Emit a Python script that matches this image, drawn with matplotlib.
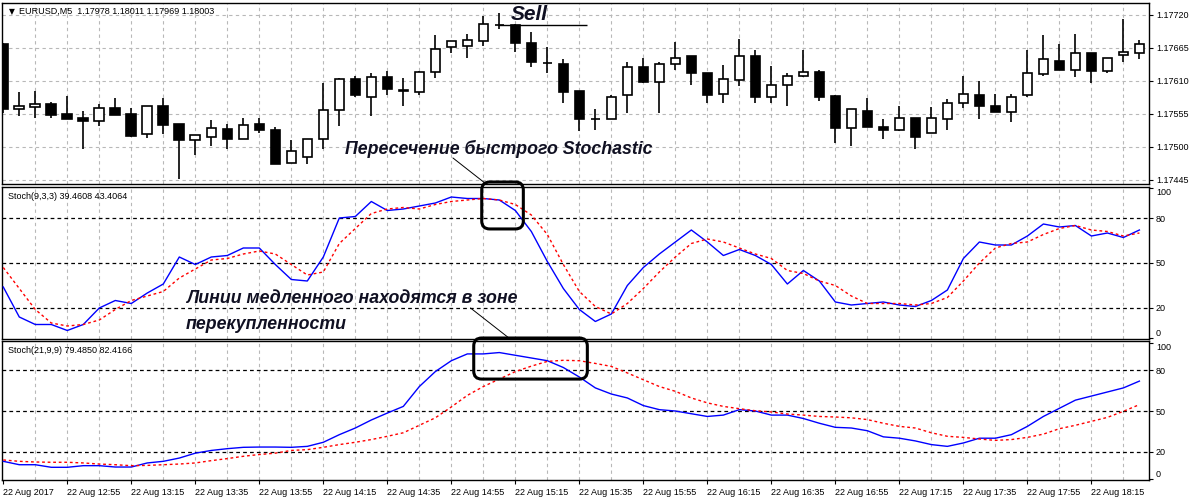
import matplotlib
matplotlib.use('Agg')
import matplotlib.pyplot as plt
from matplotlib.patches import FancyBboxPatch

# EURUSD M5, 22 Aug 2017, bars from 12:35 to 18:30
opens = [1.17671, 1.17564, 1.17567, 1.17572, 1.17555, 1.17549, 1.17544, 1.17565, 1.17555, 1.17521,
         1.17568, 1.17538, 1.17511, 1.17517, 1.17530, 1.17513, 1.17538, 1.17528, 1.17473, 1.17483,
         1.17513, 1.17562, 1.17613, 1.17584, 1.17617, 1.17595, 1.17591, 1.17625, 1.17666, 1.17668,
         1.17677, 1.17703, 1.17703, 1.17674, 1.17640, 1.17638, 1.17594, 1.17547, 1.17546, 1.17587,
         1.17633, 1.17608, 1.17638, 1.17652, 1.17624, 1.17588, 1.17611, 1.17652, 1.17583, 1.17603,
         1.17619, 1.17625, 1.17585, 1.17531, 1.17560, 1.17533, 1.17529, 1.17548, 1.17523, 1.17546,
         1.17574, 1.17586, 1.17569, 1.17559, 1.17586, 1.17621, 1.17644, 1.17629, 1.17656, 1.17626,
         1.17653, 1.17656]
highs = [1.17674, 1.17592, 1.17594, 1.17575, 1.17585, 1.17560, 1.17571, 1.17582, 1.17565, 1.17569,
         1.17581, 1.17538, 1.17520, 1.17545, 1.17538, 1.17548, 1.17548, 1.17534, 1.17512, 1.17513,
         1.17607, 1.17615, 1.17619, 1.17624, 1.17626, 1.17615, 1.17626, 1.17687, 1.17676, 1.17689,
         1.17718, 1.17723, 1.17705, 1.17692, 1.17666, 1.17646, 1.17594, 1.17563, 1.17587, 1.17642,
         1.17649, 1.17641, 1.17675, 1.17652, 1.17624, 1.17637, 1.17680, 1.17661, 1.17635, 1.17624,
         1.17662, 1.17629, 1.17586, 1.17564, 1.17581, 1.17547, 1.17568, 1.17548, 1.17567, 1.17580,
         1.17618, 1.17610, 1.17588, 1.17588, 1.17662, 1.17687, 1.17672, 1.17689, 1.17656, 1.17649,
         1.17713, 1.17678]
lows = [1.17557, 1.17551, 1.17549, 1.17548, 1.17546, 1.17497, 1.17535, 1.17553, 1.17517, 1.17515,
        1.17522, 1.17446, 1.17487, 1.17502, 1.17497, 1.17513, 1.17524, 1.17471, 1.17473, 1.17472,
        1.17496, 1.17535, 1.17584, 1.17551, 1.17586, 1.17568, 1.17587, 1.17615, 1.17656, 1.17649,
        1.17668, 1.17697, 1.17658, 1.17634, 1.17624, 1.17574, 1.17526, 1.17528, 1.17546, 1.17557,
        1.17607, 1.17557, 1.17628, 1.17604, 1.17574, 1.17574, 1.17601, 1.17573, 1.17574, 1.17568,
        1.17617, 1.17577, 1.17507, 1.17501, 1.17533, 1.17513, 1.17527, 1.17496, 1.17523, 1.17529,
        1.17565, 1.17547, 1.17558, 1.17541, 1.17584, 1.17619, 1.17628, 1.17617, 1.17607, 1.17624,
        1.17642, 1.17647]
closes = [1.17564, 1.17568, 1.17572, 1.17554, 1.17547, 1.17544, 1.17565, 1.17554, 1.17518, 1.17568,
          1.17537, 1.17512, 1.17520, 1.17531, 1.17514, 1.17536, 1.17529, 1.17472, 1.17493, 1.17513,
          1.17562, 1.17613, 1.17586, 1.17617, 1.17596, 1.17593, 1.17625, 1.17664, 1.17676, 1.17678,
          1.17705, 1.17703, 1.17673, 1.17642, 1.17640, 1.17592, 1.17546, 1.17547, 1.17584, 1.17633,
          1.17609, 1.17638, 1.17649, 1.17623, 1.17587, 1.17613, 1.17652, 1.17584, 1.17604, 1.17618,
          1.17625, 1.17584, 1.17532, 1.17564, 1.17534, 1.17529, 1.17549, 1.17517, 1.17549, 1.17574,
          1.17589, 1.17569, 1.17559, 1.17584, 1.17623, 1.17646, 1.17628, 1.17656, 1.17626, 1.17649,
          1.17659, 1.17671]

# Stoch(9,3,3): main and signal
fast_main = [34, 14, 9, 9, 5, 9, 20, 25, 23, 30,
             36, 54, 49, 54, 55, 60, 60, 49, 39, 38,
             54, 80, 81, 91, 85, 86, 88, 90, 94, 93,
             93, 92, 85, 71, 51, 33, 19, 11, 16, 35,
             47, 56, 64, 72, 64, 55, 59, 55, 49, 36,
             45, 38, 24, 22, 23, 24, 22, 21, 25, 32,
             53, 64, 62, 62, 68, 76, 74, 75, 68, 70,
             67, 72]
fast_signal = [47, 33, 19, 10, 8, 9, 12, 19, 25, 28,
               31, 40, 46, 52, 53, 56, 58, 56, 49, 42,
               44, 63, 73, 83, 86, 87, 86, 89, 91, 92,
               93, 92, 89, 82, 69, 49, 31, 21, 16, 23,
               33, 44, 54, 63, 66, 64, 60, 56, 53, 45,
               43, 38, 35, 28, 23, 23, 23, 22, 23, 27,
               38, 50, 60, 63, 64, 69, 73, 75, 72, 71,
               68, 70]

# Stoch(21,9,9): main and signal
slow_main = [13, 10.5, 10.5, 8.6, 8.6, 9.8, 9.8, 8.8, 8.8, 11.8,
             13, 15.4, 19, 21, 22.3, 23.3, 23.5, 23.5, 23.3, 24,
             27, 32.6, 37.5, 43.4, 48.5, 53.4, 68, 79, 87, 92,
             92, 93, 91, 89, 87, 82, 75, 67, 62.5, 59.6,
             54, 51, 50, 48, 46, 47, 51, 50, 47, 47,
             44.5, 41, 38, 37.5, 35.5, 31, 30, 28, 25.3, 24,
             26.5, 30, 30, 32.6, 38.7, 46, 52, 58, 61, 64,
             67, 72]
slow_signal = [14, 13, 12.5, 12.3, 12.3, 11.8, 11, 10.5, 9.8, 10,
               10.5, 11, 11.8, 13.5, 15, 16.7, 18, 19, 21, 21.6,
               23.3, 25.3, 27, 29, 31.4, 34, 39.5, 45, 53, 61.5,
               68, 73.5, 79, 83, 86.5, 87.3, 87, 85, 82.8, 78,
               73, 68, 64.5, 59.6, 56, 53.4, 51.7, 50.2, 49.3, 47.8,
               47, 46, 45.6, 45, 43.7, 41, 38.7, 37.5, 34, 31.4,
               30.6, 29.4, 28.4, 29, 30.6, 33, 37, 39.5, 42.4, 45.3,
               49.8, 54.7]

time_labels = ['22 Aug 2017', '22 Aug 12:55', '22 Aug 13:15', '22 Aug 13:35', '22 Aug 13:55',
               '22 Aug 14:15', '22 Aug 14:35', '22 Aug 14:55', '22 Aug 15:15', '22 Aug 15:35',
               '22 Aug 15:55', '22 Aug 16:15', '22 Aug 16:35', '22 Aug 16:55', '22 Aug 17:15',
               '22 Aug 17:35', '22 Aug 17:55', '22 Aug 18:15']
price_ticks = [1.17445, 1.17500, 1.17555, 1.17610, 1.17665, 1.17720]
stoch_ticks = [0, 20, 50, 80, 100]
levels = [20, 50, 80]
sell_bar = 31

W, H = 1192, 501
fig = plt.figure(figsize=(W / 100, H / 100), dpi=100)
fig.patch.set_facecolor('white')


def px_axes(x0, y0, x1, y1):
    return fig.add_axes([x0 / W, 1 - y1 / H, (x1 - x0) / W, (y1 - y0) / H])


ax_price = px_axes(2, 3, 1149, 184)
ax_fast = px_axes(2, 187, 1149, 339)
ax_slow = px_axes(2, 341, 1149, 480)

bars = list(range(len(opens)))
grid_kw = dict(color='#b8b8b8', lw=0.8, ls=(0, (3, 3)), zorder=0)
label_font = 'Liberation Sans'

for ax in (ax_price, ax_fast, ax_slow):
    ax.set_xlim(-0.08, 71.6)
    for b in bars[2::2]:
        ax.axvline(b, **grid_kw)
    ax.yaxis.tick_right()
    ax.tick_params(axis='y', direction='out', length=3, width=0.8, pad=2,
                   labelsize=6.5, labelfontfamily=label_font)
    ax.tick_params(axis='x', direction='out', length=3, width=0.8)
    for s in ax.spines.values():
        s.set_linewidth(1.0)

# ---------------- price panel ----------------
ax_price.set_ylim(1.174383, 1.177400)
for p in price_ticks:
    ax_price.axhline(p, **grid_kw)
ax_price.set_yticks(price_ticks)
ax_price.set_yticklabels(['%.5f' % p for p in price_ticks])
ax_price.set_xticks([])

ax_price.vlines(bars, lows, highs, color='black', lw=1.2, zorder=2)
up = [c >= o for o, c in zip(opens, closes)]
body_bottom = [min(o, c) for o, c in zip(opens, closes)]
body_height = [abs(c - o) for o, c in zip(opens, closes)]
ax_price.bar(bars, body_height, bottom=body_bottom, width=0.6,
             color=['white' if u else 'black' for u in up],
             edgecolor='black', linewidth=1.2, zorder=3)

ax_price.text(0.0065, 0.955, '\u25bc', transform=ax_price.transAxes, fontsize=5.5,
              va='center', ha='left')
ax_price.text(0.0145, 0.955, 'EURUSD,M5  1.17978 1.18011 1.17969 1.18003',
              transform=ax_price.transAxes, fontsize=6.5, family=label_font,
              va='center', ha='left')

# sell mark
ax_price.hlines(closes[sell_bar], sell_bar, 36.5, color='black', lw=1.0, zorder=4)
note_kw = dict(fontweight='bold', fontstyle='italic', color='#101022',
               family='Liberation Sans', zorder=6)
ax_price.text(31.7, 1.17712, 'Sell', ha='left', va='baseline', fontsize=15, **note_kw)
ax_price.text(21.35, 1.174883, 'Пересечение быстрого Stochastic', ha='left',
              va='baseline', fontsize=12.8, **note_kw)

# ---------------- stochastic panels ----------------
ax_fast.set_ylim(-0.67, 100.67)
ax_slow.set_ylim(-0.74, 101.5)
for ax, main, signal, title in ((ax_fast, fast_main, fast_signal, 'Stoch(9,3,3) 39.4608 43.4064'),
                                (ax_slow, slow_main, slow_signal, 'Stoch(21,9,9) 79.4850 82.4166')):
    for lv in levels:
        ax.axhline(lv, color='black', lw=0.9, ls=(0, (3, 2.5)), zorder=1)
    ax.plot(bars, main, color='#0000ff', lw=1.0, zorder=3)
    ax.plot(bars, signal, color='#ff0000', lw=1.0, ls=(0, (2, 2)), zorder=3)
    ax.set_yticks(stoch_ticks)
    ax.set_yticklabels([str(t) for t in stoch_ticks])
    tl = ax.get_yticklabels()
    tl[0].set_va('bottom')
    tl[-1].set_va('top')
    ax.text(0.005, 0.935, title, transform=ax.transAxes, fontsize=6.5,
            family=label_font, va='center', ha='left')

ax_fast.set_xticks([])
ax_slow.set_xticks(bars[::4])
ax_slow.set_xticklabels(time_labels, ha='left', fontsize=6.5, family=label_font)
ax_slow.tick_params(axis='x', pad=3)

ax_fast.text(11.42, 23.3, 'Линии медленного находятся в зоне', ha='left',
             va='baseline', fontsize=12.8, **note_kw)
ax_fast.text(11.42, 6.0, 'перекупленности', ha='left', va='baseline', fontsize=12.8, **note_kw)


def round_box(ax, x0, x1, y0, y1, radius_px=8):
    # keep the corners circular although the axes are not square in data units
    bbox = ax.get_position()
    px_x = bbox.width * W / (ax.get_xlim()[1] - ax.get_xlim()[0])
    px_y = bbox.height * H / (ax.get_ylim()[1] - ax.get_ylim()[0])
    box = FancyBboxPatch((x0, y0), x1 - x0, y1 - y0,
                         boxstyle='round,pad=0,rounding_size=%f' % (radius_px / px_x),
                         mutation_aspect=px_x / px_y, fill=False, edgecolor='black',
                         lw=2.2, clip_on=False, zorder=7)
    ax.add_patch(box)


round_box(ax_fast, 29.9, 32.5, 72.7, 104.0)
round_box(ax_slow, 29.4, 36.5, 73.5, 103.7)

# thin leader lines from the notes to the boxes
leader = dict(arrowstyle='-', color='black', lw=0.7, shrinkA=0, shrinkB=0)
ax_price.annotate('', xy=(30.1, 103.3), xycoords=ax_fast.transData,
                  xytext=(28.1, 1.174817), textcoords='data',
                  arrowprops=leader, annotation_clip=False)
ax_fast.annotate('', xy=(31.6, 103.7), xycoords=ax_slow.transData,
                 xytext=(29.2, 20.0), textcoords='data',
                 arrowprops=leader, annotation_clip=False)

fig.savefig('out.png', dpi=100, facecolor='white')
